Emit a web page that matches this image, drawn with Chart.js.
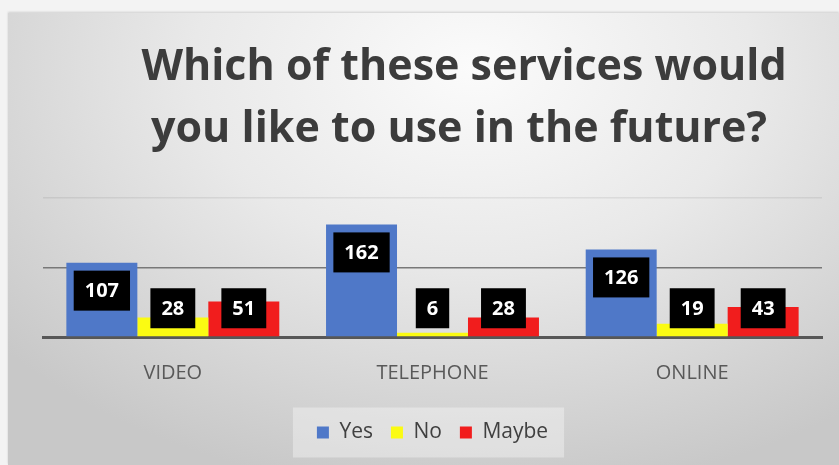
<!DOCTYPE html>
<html>
<head>
<meta charset="utf-8">
<script src="https://cdn.jsdelivr.net/npm/chart.js@4"></script>
<style>
  html, body { margin: 0; padding: 0; background: #f3f3f3; }
  #panel {
    position: absolute; left: 8px; top: 13px; width: 831px; height: 452px;
    background: radial-gradient(ellipse 75% 95% at 56% 12%, #fbfbfb 0%, #e9e9e9 45%, #c8c8c8 100%);
    box-shadow: 0 -1px 2px rgba(0,0,0,0.15);
  }
  #wrap { position: absolute; left: 0; top: 0; width: 839px; height: 465px; }
</style>
</head>
<body>
<div id="panel"></div>
<div id="wrap"><canvas id="chart" width="839" height="465"></canvas></div>
<script>
const categories = ["VIDEO", "TELEPHONE", "ONLINE"];
const seriesNames = ["Yes", "No", "Maybe"];
const yesValues = [107, 162, 126];
const noValues = [28, 6, 19];
const maybeValues = [51, 28, 43];
const yTicks = [0, 100, 200];
const titleLines = ["Which of these services would", "you like to use in the future?"];

const FONT = '"Open Sans", "DejaVu Sans", sans-serif';

// two-line heading above the plot
const headline = {
  id: "headline",
  afterDraw(chart) {
    const ctx = chart.ctx;
    ctx.save();
    ctx.font = "bold 43px " + FONT;
    ctx.fillStyle = "#3c3c3c";
    ctx.textAlign = "center";
    ctx.textBaseline = "alphabetic";
    ctx.fillText(titleLines[0], 464, 80);
    ctx.fillText(titleLines[1], 459, 142);
    ctx.restore();
  },
};

// lighter box behind the legend entries
const legendBox = {
  id: "legendBox",
  beforeDraw(chart) {
    const boxes = chart.legend && chart.legend.legendHitBoxes;
    if (!boxes || !boxes.length) return;
    const first = boxes[0];
    const last = boxes[boxes.length - 1];
    const mid = first.top + first.height / 2;
    const left = first.left - 24;
    const right = last.left + last.width + 16;
    const ctx = chart.ctx;
    ctx.save();
    ctx.fillStyle = "rgba(255,255,255,0.35)";
    ctx.fillRect(left, mid - 25, right - left, 50);
    ctx.restore();
  },
};

// value labels: white text on black boxes near the top of each bar
const valueTags = {
  id: "valueTags",
  afterDatasetsDraw(chart) {
    const ctx = chart.ctx;
    ctx.save();
    ctx.font = "bold 20px " + FONT;
    ctx.textAlign = "center";
    ctx.textBaseline = "middle";
    chart.data.datasets.forEach((ds, i) => {
      chart.getDatasetMeta(i).data.forEach((bar, j) => {
        const text = String(ds.data[j]);
        const w = ctx.measureText(text).width + 22;
        const h = 40;
        const top = Math.min(bar.y + 8, bar.base - 48);
        ctx.fillStyle = "#000";
        ctx.fillRect(bar.x - w / 2, top, w, h);
        ctx.fillStyle = "#fff";
        ctx.fillText(text, bar.x, top + h / 2 + 1);
      });
    });
    ctx.restore();
  },
};

new Chart(document.getElementById("chart"), {
  type: "bar",
  data: {
    labels: categories,
    datasets: [
      { label: seriesNames[0], data: yesValues, backgroundColor: "#4f78c8" },
      { label: seriesNames[1], data: noValues, backgroundColor: "#fbfb12" },
      { label: seriesNames[2], data: maybeValues, backgroundColor: "#f11d1d" },
    ],
  },
  options: {
    responsive: false,
    animation: false,
    layout: { padding: { left: 43, right: 17, top: 198, bottom: 12 } },
    datasets: { bar: { categoryPercentage: 0.82, barPercentage: 1.0 } },
    scales: {
      x: {
        grid: { display: false, drawTicks: false },
        border: { color: "#575757", width: 3 },
        ticks: { color: "#595959", font: { family: FONT, size: 20 }, padding: 24 },
        afterFit(scale) { scale.height = 67; },
      },
      y: {
        min: yTicks[0],
        max: yTicks[yTicks.length - 1],
        afterBuildTicks(scale) { scale.ticks = yTicks.map((v) => ({ value: v })); },
        ticks: { display: false },
        border: { display: false },
        grid: {
          drawTicks: false,
          lineWidth: 1.5,
          color: (c) => {
            if (c.tick.value === 100) return "#787878";
            if (c.tick.value === 200) return "rgba(0,0,0,0.07)";
            return "rgba(0,0,0,0)";
          },
        },
      },
    },
    plugins: {
      legend: {
        position: "bottom",
        labels: {
          boxWidth: 12,
          boxHeight: 12,
          padding: 18,
          color: "#404040",
          font: { family: FONT, size: 21 },
        },
      },
      tooltip: { enabled: false },
    },
  },
  plugins: [headline, legendBox, valueTags],
});
</script>
</body>
</html>
